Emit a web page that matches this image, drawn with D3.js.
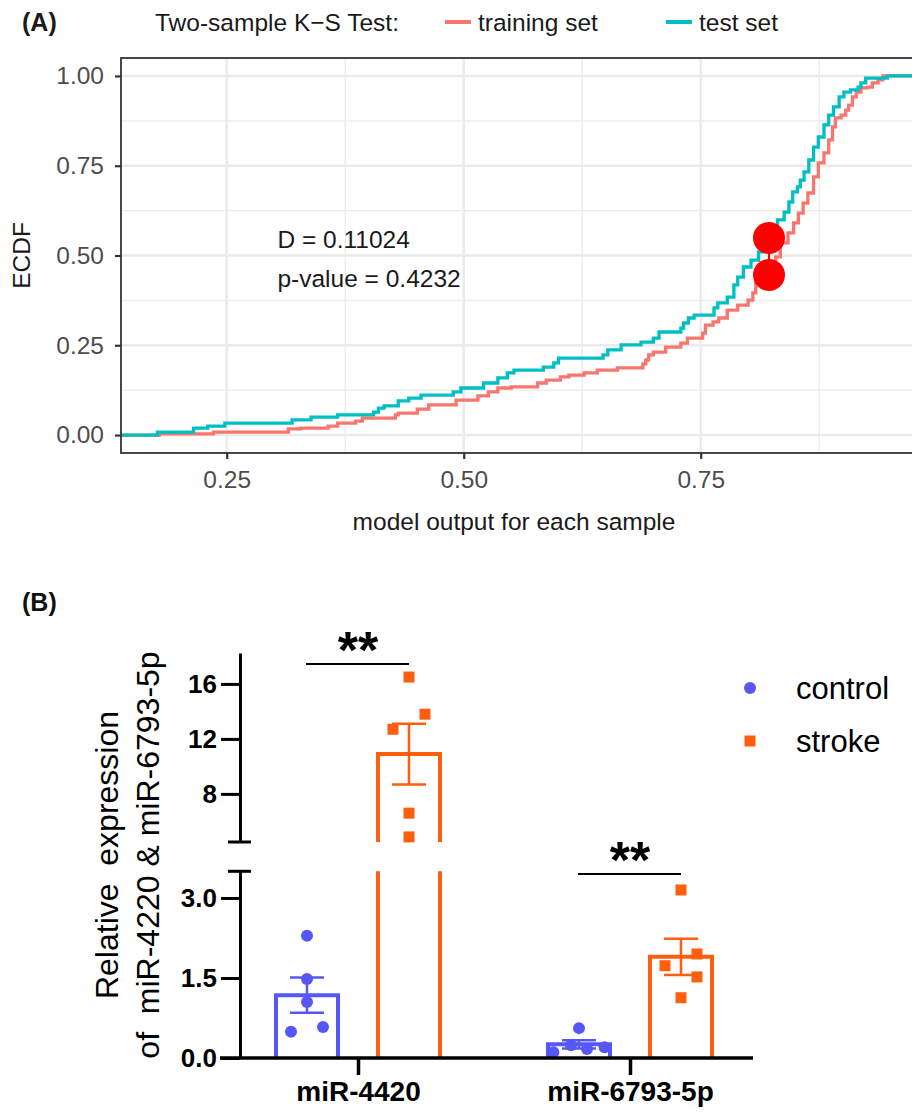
<!DOCTYPE html>
<html><head><meta charset="utf-8">
<script src="https://cdn.jsdelivr.net/npm/d3@7"></script>
<style>
body{margin:0;background:#fff}
svg{display:block}
text{font-family:"Liberation Sans",Arial,Helvetica,sans-serif}
</style>
</head><body>
<svg id="chart" width="912" height="1113"></svg>
<script>
// ---------------- Panel A data (step points: model output where ECDF jumps, new ECDF level) ----------------
const testOutput = [0.177,0.215,0.230,0.248,0.319,0.339,0.367,0.405,0.410,0.416,0.431,0.442,0.455,0.489,0.497,0.521,0.536,0.546,0.553,0.584,0.595,0.600,0.647,0.652,0.666,0.687,0.700,0.706,0.729,0.732,0.737,0.743,0.764,0.768,0.778,0.785,0.789,0.795,0.803,0.811,0.819,0.826,0.831,0.838,0.843,0.847,0.852,0.855,0.859,0.864,0.869,0.874,0.880,0.885,0.890,0.896,0.901,0.908,0.916,0.919,0.924,0.947];
const testEcdf   = [0.008,0.019,0.025,0.033,0.042,0.050,0.056,0.064,0.075,0.081,0.095,0.103,0.111,0.120,0.131,0.145,0.159,0.173,0.181,0.189,0.201,0.214,0.223,0.237,0.251,0.259,0.270,0.287,0.298,0.312,0.326,0.334,0.354,0.368,0.384,0.418,0.440,0.468,0.487,0.510,0.549,0.571,0.599,0.621,0.649,0.677,0.691,0.710,0.733,0.766,0.802,0.830,0.864,0.891,0.914,0.942,0.955,0.961,0.969,0.981,0.994,1.000];
const trainOutput = [0.179,0.236,0.315,0.328,0.357,0.367,0.386,0.393,0.428,0.431,0.451,0.463,0.492,0.515,0.526,0.536,0.550,0.578,0.587,0.602,0.611,0.627,0.641,0.662,0.689,0.692,0.695,0.700,0.713,0.729,0.736,0.752,0.755,0.763,0.769,0.778,0.789,0.800,0.805,0.808,0.811,0.825,0.829,0.834,0.842,0.848,0.853,0.858,0.863,0.869,0.874,0.880,0.885,0.889,0.892,0.898,0.903,0.906,0.910,0.914,0.919,0.926,0.931,0.937,0.942];
const trainEcdf   = [0.003,0.008,0.017,0.019,0.025,0.033,0.039,0.047,0.056,0.061,0.072,0.084,0.097,0.109,0.120,0.131,0.134,0.145,0.153,0.162,0.167,0.173,0.181,0.187,0.198,0.209,0.223,0.231,0.245,0.256,0.270,0.284,0.306,0.315,0.326,0.348,0.362,0.376,0.396,0.423,0.446,0.474,0.496,0.535,0.563,0.591,0.618,0.646,0.674,0.719,0.758,0.786,0.822,0.858,0.883,0.891,0.905,0.919,0.942,0.955,0.967,0.969,0.981,0.989,1.000];
const ksX = 0.822;                 // location of maximum distance
const ksY = [0.549, 0.446];        // test / training ECDF at that location
const ksText = ["D = 0.11024", "p-value = 0.4232"];
const xTicksA = [0.25, 0.50, 0.75];
const yTicksA = [0.00, 0.25, 0.50, 0.75, 1.00];
const seriesA = ["training set", "test set"];
const colorsA = ["#F8766D", "#00BFC4"];

// ---------------- Panel B data ----------------
const mirnas = ["miR-4420", "miR-6793-5p"];
const groups = ["control", "stroke"];
const control4420 = [2.29, 1.48, 1.05, 0.49, 0.58];
const stroke4420  = [16.5, 13.8, 12.7, 6.6, 4.87];
const control6793 = [0.56, 0.11, 0.24, 0.17, 0.20];
const stroke6793  = [3.15, 1.95, 1.73, 1.52, 1.13];
const yTicksLow  = [0.0, 1.5, 3.0];
const yTicksHigh = [8, 12, 16];
const sigLabels = ["**", "**"];
const colorsB = ["#5757F7", "#FF5E0E"];

// layout-only jitter slots for the dot plots (not data)
const jitterSlots = {
  "miR-4420|control": [0,0,0,-1,1],
  "miR-4420|stroke":  [0,1,-1,0,0],
  "miR-6793-5p|control": [0,-1.6,-0.5,0.5,1.6],
  "miR-6793-5p|stroke":  [0,1,-1,1,0]
};

const svg = d3.select("#chart");
const font = '"Liberation Sans",Arial,Helvetica,sans-serif';
const fsA = 24.5;

// =================== PANEL A ===================
const pA = {left:121, right:924, top:58, bottom:453};
const allX = testOutput.concat(trainOutput);
const xMin = d3.min(allX), xMax = d3.max(allX), xPad = 0.05*(xMax-xMin);
const xA = d3.scaleLinear().domain([xMin-xPad, xMax+xPad]).range([pA.left, pA.right]);
const yA = d3.scaleLinear().domain([-0.05, 1.05]).range([pA.bottom, pA.top]);

svg.append("defs").append("clipPath").attr("id","clipA")
  .append("rect").attr("x",pA.left).attr("y",pA.top).attr("width",912-pA.left).attr("height",pA.bottom-pA.top);

const gA = svg.append("g");
const grid = gA.append("g").attr("clip-path","url(#clipA)");
const xMinor = d3.range(0.125, 1.0, 0.25), yMinor = d3.range(0.125, 1.0, 0.25);
grid.selectAll(".xm").data(xMinor).join("line")
  .attr("x1",d=>xA(d)).attr("x2",d=>xA(d)).attr("y1",pA.top).attr("y2",pA.bottom)
  .attr("stroke","#ebebeb").attr("stroke-width",1.3);
grid.selectAll(".ym").data(yMinor).join("line")
  .attr("x1",pA.left).attr("x2",pA.right).attr("y1",d=>yA(d)).attr("y2",d=>yA(d))
  .attr("stroke","#ebebeb").attr("stroke-width",1.3);
grid.selectAll(".xM").data(xTicksA).join("line")
  .attr("x1",d=>xA(d)).attr("x2",d=>xA(d)).attr("y1",pA.top).attr("y2",pA.bottom)
  .attr("stroke","#ebebeb").attr("stroke-width",2.6);
grid.selectAll(".yM").data(yTicksA).join("line")
  .attr("x1",pA.left).attr("x2",pA.right).attr("y1",d=>yA(d)).attr("y2",d=>yA(d))
  .attr("stroke","#ebebeb").attr("stroke-width",2.6);

// ECDF step lines
const stepLine = d3.line().x(d=>xA(d[0])).y(d=>yA(d[1])).curve(d3.curveStepAfter);
function padded(xs, ys){
  const pts = [[xA.domain()[0]-0.1, 0]];
  xs.forEach((x,i)=>pts.push([x, ys[i]]));
  pts.push([xA.domain()[1]+0.1, 1]);
  return pts;
}
const curves = [padded(trainOutput, trainEcdf), padded(testOutput, testEcdf)];
const lines = gA.append("g").attr("clip-path","url(#clipA)");
lines.selectAll("path").data(curves).join("path")
  .attr("d", stepLine).attr("fill","none")
  .attr("stroke",(d,i)=>colorsA[i]).attr("stroke-width",3.3);

// KS max distance
lines.append("line").attr("x1",xA(ksX)).attr("x2",xA(ksX)).attr("y1",yA(ksY[0])).attr("y2",yA(ksY[1]))
  .attr("stroke","#FF0000").attr("stroke-width",2);
lines.selectAll(".ks").data(ksY).join("circle")
  .attr("cx",xA(ksX)).attr("cy",d=>yA(d)).attr("r",16).attr("fill","#FF0000");

// KS text
gA.selectAll(".kst").data(ksText).join("text")
  .attr("x",xA(0.3035)).attr("y",(d,i)=>yA(0.522 - i*0.109))
  .attr("font-size",fsA).attr("fill","#1a1a1a").text(d=>d);

// border
gA.append("rect").attr("x",pA.left).attr("y",pA.top).attr("width",pA.right-pA.left+20).attr("height",pA.bottom-pA.top)
  .attr("fill","none").attr("stroke","#333").attr("stroke-width",1.8);

// axes
const axA_y = gA.append("g").attr("transform",`translate(${pA.left},0)`)
  .call(d3.axisLeft(yA).tickValues(yTicksA).tickFormat(d3.format(".2f")).tickSize(6).tickPadding(11));
const axA_x = gA.append("g").attr("transform",`translate(0,${pA.bottom})`)
  .call(d3.axisBottom(xA).tickValues(xTicksA).tickFormat(d3.format(".2f")).tickSize(6).tickPadding(12));
[axA_y, axA_x].forEach(ax=>{
  ax.select(".domain").remove();
  ax.selectAll(".tick line").attr("stroke","#333").attr("stroke-width",2.2);
  ax.selectAll(".tick text").attr("font-size",fsA).attr("fill","#4d4d4d").attr("font-family",font);
});

gA.append("text").attr("x",514).attr("y",530).attr("text-anchor","middle")
  .attr("font-size",fsA).attr("fill","#1a1a1a").text("model output for each sample");
gA.append("text").attr("transform",`translate(30,${(pA.top+pA.bottom)/2}) rotate(-90)`)
  .attr("text-anchor","middle").attr("font-size",fsA).attr("fill","#1a1a1a").text("ECDF");

// header legend
svg.append("text").attr("x",22).attr("y",31).attr("font-size",25).attr("font-weight","bold").attr("fill","#1a1a1a").text("(A)");
svg.append("text").attr("x",155).attr("y",31).attr("font-size",fsA).attr("fill","#1a1a1a").text("Two-sample K\u2212S Test:");
const legX = [445, 666];
seriesA.forEach((s,i)=>{
  svg.append("line").attr("x1",legX[i]).attr("x2",legX[i]+26).attr("y1",22).attr("y2",22)
    .attr("stroke",colorsA[i]).attr("stroke-width",4);
  svg.append("text").attr("x",legX[i]+33).attr("y",31).attr("font-size",fsA).attr("fill","#1a1a1a").text(s);
});

// =================== PANEL B ===================
svg.append("text").attr("x",22).attr("y",611).attr("font-size",25).attr("font-weight","bold").attr("fill","#111").text("(B)");

const axisX = 240, base = 1058;
const yLow  = d3.scaleLinear().domain([0, 3.5]).range([base, 871.3]);
const yHigh = d3.scaleLinear().domain([4.5, 18.25]).range([842, 653]);
const yB = v => v <= 3.5 ? yLow(v) : yHigh(v);
const xCat = d3.scalePoint().domain(mirnas).range([358, 630]);
const xGrp = d3.scaleBand().domain(groups).range([-84, 84]).paddingInner(0.353).paddingOuter(0);
const bw = xGrp.bandwidth();

const dataB = [
  {m:"miR-4420", g:"control", v:control4420},
  {m:"miR-4420", g:"stroke",  v:stroke4420},
  {m:"miR-6793-5p", g:"control", v:control6793},
  {m:"miR-6793-5p", g:"stroke",  v:stroke6793}
];
dataB.forEach(d=>{
  d.mean = d3.mean(d.v);
  d.sem = d3.deviation(d.v)/Math.sqrt(d.v.length);
  d.cx = xCat(d.m) + xGrp(d.g) + bw/2;
  d.color = colorsB[groups.indexOf(d.g)];
});

const gB = svg.append("g");
dataB.forEach(d=>{
  const x0 = d.cx - bw/2 + 2, x1 = d.cx + bw/2 - 2;
  let p;
  if (d.mean <= 3.5) {
    p = `M${x0},${base}V${yLow(d.mean)}H${x1}V${base}`;
  } else {
    p = `M${x0},${base}V${yLow(3.5)}M${x1},${yLow(3.5)}V${base}` +
        `M${x0},${yHigh(4.5)}V${yHigh(d.mean)}H${x1}V${yHigh(4.5)}`;
  }
  gB.append("path").attr("d",p).attr("fill","none").attr("stroke",d.color).attr("stroke-width",4);
});
dataB.forEach(d=>{
  const slots = jitterSlots[d.m+"|"+d.g];
  d.v.forEach((v,i)=>{
    const px = d.cx + slots[i]*16, py = yB(v);
    if (d.g==="control") gB.append("circle").attr("cx",px).attr("cy",py).attr("r",6).attr("fill",d.color);
    else gB.append("rect").attr("x",px-5.5).attr("y",py-5.5).attr("width",11).attr("height",11).attr("fill",d.color);
  });
});
dataB.forEach(d=>{
  const lo = yB(d.mean - d.sem), hi = yB(d.mean + d.sem), cw = 17;
  const g = gB.append("g").attr("stroke",d.color).attr("stroke-width",2.5);
  g.append("line").attr("x1",d.cx).attr("x2",d.cx).attr("y1",lo).attr("y2",hi);
  g.append("line").attr("x1",d.cx-cw).attr("x2",d.cx+cw).attr("y1",lo).attr("y2",lo);
  g.append("line").attr("x1",d.cx-cw).attr("x2",d.cx+cw).attr("y1",hi).attr("y2",hi);
});

const axLow = gB.append("g").attr("transform",`translate(${axisX},0)`)
  .call(d3.axisLeft(yLow).tickValues(yTicksLow).tickFormat(d3.format(".1f")).tickSize(19).tickSizeOuter(0).tickPadding(4));
const axHigh = gB.append("g").attr("transform",`translate(${axisX},0)`)
  .call(d3.axisLeft(yHigh).tickValues(yTicksHigh).tickFormat(d3.format("d")).tickSize(19).tickSizeOuter(0).tickPadding(4));
[axLow, axHigh].forEach(ax=>{
  ax.select(".domain").attr("stroke","#000").attr("stroke-width",3);
  ax.selectAll(".tick line").attr("stroke","#000").attr("stroke-width",3);
  ax.selectAll(".tick text").attr("font-size",26).attr("font-weight","bold").attr("fill","#000").attr("font-family",font);
});
[yHigh(4.5), yLow(3.5)].forEach(y=>{
  gB.append("line").attr("x1",axisX-12).attr("x2",axisX+11).attr("y1",y).attr("y2",y)
    .attr("stroke","#000").attr("stroke-width",3);
});
const axB_x = gB.append("g").attr("transform",`translate(0,${base})`)
  .call(d3.axisBottom(xCat).tickSize(17).tickSizeOuter(0).tickPadding(6));
axB_x.select(".domain").remove();
gB.append("line").attr("x1",220).attr("x2",753).attr("y1",base).attr("y2",base).attr("stroke","#000").attr("stroke-width",3.5);
axB_x.selectAll(".tick line").attr("stroke","#000").attr("stroke-width",3.5);
axB_x.selectAll(".tick text").attr("font-size",28).attr("font-weight","bold").attr("fill","#000").attr("font-family",font);

const yTitle = gB.append("g").attr("transform","translate(0,855)");
["Relative  expression","of  miR-4220 & miR-6793-5p"].forEach((t,i)=>{
  yTitle.append("text").attr("transform",`translate(${118 + i*41},0) rotate(-90)`)
    .attr("text-anchor","middle").attr("font-size",32).attr("fill","#000")
    .style("white-space","pre").text(t);
});

const sigY = [664, 874];
mirnas.forEach((m,i)=>{
  const xl = xCat(m) + xGrp("control") + bw/2, xr = xCat(m) + xGrp("stroke") + bw/2;
  gB.append("line").attr("x1",xl-1).attr("x2",xr).attr("y1",sigY[i]).attr("y2",sigY[i]).attr("stroke","#000").attr("stroke-width",2);
  gB.append("text").attr("x",(xl+xr)/2).attr("y",sigY[i]+4).attr("text-anchor","middle")
    .attr("font-size",52).attr("font-weight","bold").attr("fill","#000").text(sigLabels[i]);
});

const legB = [688, 741];
groups.forEach((g,i)=>{
  if (i===0) svg.append("circle").attr("cx",750).attr("cy",legB[i]).attr("r",6).attr("fill",colorsB[i]);
  else svg.append("rect").attr("x",744.5).attr("y",legB[i]-5.5).attr("width",11).attr("height",11).attr("fill",colorsB[i]);
  svg.append("text").attr("x",796).attr("y",legB[i]).attr("dy","0.35em").attr("font-size",31).attr("fill","#000").text(g);
});
</script>
</body></html>
